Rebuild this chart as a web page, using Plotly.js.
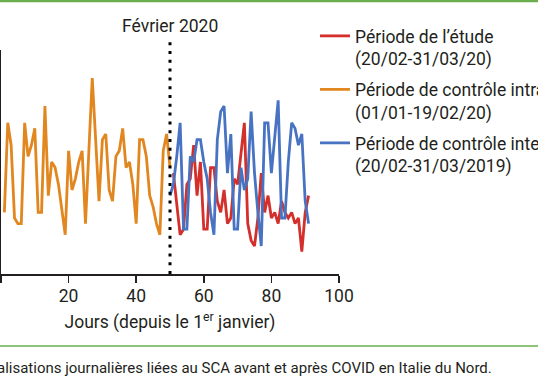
<!DOCTYPE html>
<html>
<head>
<meta charset="utf-8">
<script src="https://cdn.plot.ly/plotly-3.0.1.min.js"></script>
<style>
  html, body { margin: 0; padding: 0; background: #ffffff; }
  #chart { width: 538px; height: 384px; }
</style>
</head>
<body>
<div id="chart"></div>
<script>
// Daily ACS hospitalisations
const studyStartDay = 51;      // 20/02/2020
const intraStartDay = 1;       // 01/01/2020
const interStartDay = 50;

const studyValues = [18, 12, 7, 8, 16, 17, 23, 14, 20, 8,
                     8, 19, 19, 13, 11, 15, 9, 10, 17, 16,
                     21, 27, 9, 6, 5, 10, 18, 11, 14, 10,
                     11, 9, 13, 11, 10, 11, 9, 10, 4, 11, 14];
const intraValues = [11, 27, 23, 10, 9, 9, 27, 21, 23, 26,
                     11, 11, 30, 14, 20, 19, 16, 11, 7, 22,
                     15, 17, 20, 22, 9, 22, 35, 24, 13, 24,
                     25, 15, 13, 21, 22, 26, 19, 20, 16, 9,
                     24, 24, 21, 14, 12, 9, 7, 22, 25, 19];
const interValues = [14, 16, 21, 27, 8, 8, 21, 20, 24, 24,
                     20, 17, 11, 7, 24, 29, 30, 18, 25, 8,
                     8, 19, 15, 17, 29, 18, 11, 5, 27, 27,
                     18, 25, 31, 10, 10, 20, 27, 26, 23, 25, 13, 9];

const seriesNames = [
  "Période de l’étude<br>(20/02-31/03/20)",
  "Période de contrôle intra-annuelle<br>(01/01-19/02/20)",
  "Période de contrôle inter-annuelle<br>(20/02-31/03/2019)"
];
const xTicks = [0, 20, 40, 60, 80, 100];
const februaryDay = 50;
const februaryLabel = "Février 2020";
const xTitle = "Jours (depuis le 1<sup>er</sup> janvier)";
const caption = "Hospitalisations journalières liées au SCA avant et après COVID en Italie du Nord.";

function days(start, values) { return values.map((_, i) => start + i); }

const FONT = "Roboto, 'DejaVu Sans', sans-serif";
const TXT = "#231f20";
const FS = 17.5;

const traces = [
  { x: days(intraStartDay, intraValues), y: intraValues, name: seriesNames[1],
    type: "scatter", mode: "lines", line: { color: "#e2861f", width: 2.8 },
    legendrank: 2, legendgroup: "b" },
  { x: days(studyStartDay, studyValues), y: studyValues, name: seriesNames[0],
    type: "scatter", mode: "lines", line: { color: "#d42f2a", width: 2.8 },
    legendrank: 1, legendgroup: "a" },
  { x: days(interStartDay, interValues), y: interValues, name: seriesNames[2],
    type: "scatter", mode: "lines", line: { color: "#4873c2", width: 2.8 },
    legendrank: 3, legendgroup: "c" }
];

const L = 1, PW = 338, T = 50, PH = 224;
function px2x(px) { return (px - L) / PW; }
function py2y(py) { return (T + PH - py) / PH; }

const layout = {
  width: 538, height: 384,
  margin: { l: L, r: 538 - L - PW, t: T, b: 384 - T - PH, pad: 0, autoexpand: false },
  paper_bgcolor: "#ffffff", plot_bgcolor: "#ffffff",
  font: { family: FONT, color: TXT, size: FS },
  showlegend: true,
  legend: {
    x: px2x(315), xanchor: "left", y: py2y(18), yanchor: "top",
    font: { family: FONT, size: FS, color: TXT },
    bgcolor: "rgba(0,0,0,0)", valign: "top",
    traceorder: "grouped", tracegroupgap: 5
  },
  xaxis: {
    range: [0, 100], tickvals: xTicks, ticktext: xTicks.map(String),
    ticks: "outside", ticklen: 7, tickwidth: 1.5, tickcolor: TXT,
    ticklabelstandoff: -2,
    showline: true, linecolor: TXT, linewidth: 2,
    showgrid: false, zeroline: false,
    tickfont: { family: FONT, size: FS, color: TXT },
    title: { text: xTitle, font: { family: FONT, size: FS, color: TXT }, standoff: 11 }
  },
  yaxis: {
    range: [0, 40], showline: true, linecolor: TXT, linewidth: 2,
    showgrid: false, zeroline: false, ticks: "", showticklabels: false
  },
  shapes: [
    { type: "line", xref: "x", yref: "paper", x0: februaryDay, x1: februaryDay,
      y0: 0, y1: py2y(42), line: { color: "#000000", width: 3, dash: "3px,5.8px" } },
    { type: "line", xref: "paper", yref: "paper", x0: px2x(-5), x1: px2x(545),
      y0: py2y(1), y1: py2y(1), line: { color: "#6aae4e", width: 2.5 } },
    { type: "line", xref: "paper", yref: "paper", x0: px2x(-5), x1: px2x(545),
      y0: py2y(346), y1: py2y(346), line: { color: "#6aae4e", width: 1.5 } }
  ],
  annotations: [
    { xref: "x", yref: "paper", x: februaryDay, y: py2y(26), text: februaryLabel,
      showarrow: false, xanchor: "center", yanchor: "middle",
      font: { family: FONT, size: FS, color: TXT } },
    { xref: "paper", yref: "paper", x: px2x(494), y: py2y(368), text: caption,
      showarrow: false, xanchor: "right", yanchor: "middle",
      font: { family: FONT, size: 15, color: TXT } }
  ]
};

Plotly.newPlot("chart", traces, layout, { displayModeBar: false, staticPlot: true });
</script>
</body>
</html>
